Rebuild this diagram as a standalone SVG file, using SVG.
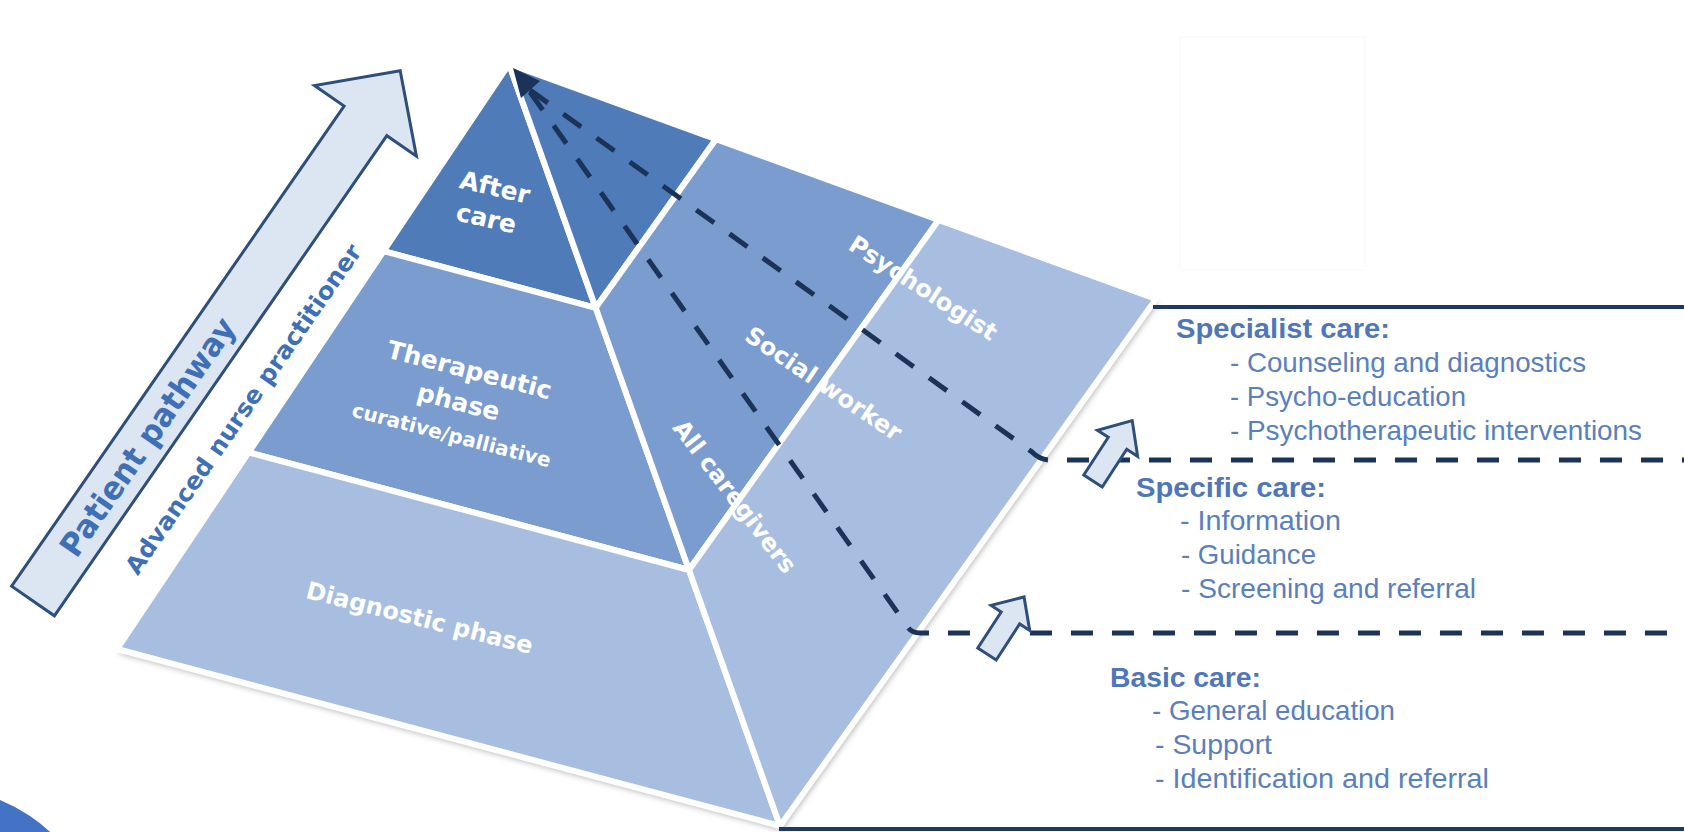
<svg xmlns="http://www.w3.org/2000/svg" width="1684" height="832" viewBox="0 0 1684 832">
<defs>
<style>
.face{stroke:#ffffff;stroke-width:6;stroke-linejoin:round}
.dark{fill:#4f7cb9}
.mid{fill:#7a9cce}
.light{fill:#a8bee0}
.plab{font-family:"DejaVu Sans","Liberation Sans",sans-serif;font-weight:bold;fill:#ffffff;text-anchor:middle}
.dash{fill:none;stroke:#1b3358;stroke-width:5;stroke-dasharray:22 19}
.solid{fill:none;stroke:#1f3a60;stroke-width:4}
.blk{fill:#dce6f2;stroke:#2f4f7a;stroke-width:3;stroke-linejoin:miter}
.hd{font-family:"Liberation Sans Narrow","Liberation Sans",sans-serif;font-weight:bold;font-size:28px;fill:#4f77b8}
.it{font-family:"Liberation Sans Narrow","Liberation Sans",sans-serif;font-size:28px;fill:#5a7fbd}
.side{font-family:"DejaVu Sans","Liberation Sans",sans-serif;font-weight:bold;fill:#3f6fb5}
</style>
<filter id="sh" x="-10%" y="-10%" width="120%" height="120%">
<feGaussianBlur stdDeviation="3"/>
</filter>
</defs>
<rect width="1684" height="832" fill="#ffffff"/>
<rect x="1180" y="37" width="185" height="233" fill="none" stroke="#f8f8f8" stroke-width="1"/>
<circle cx="-62" cy="953" r="165" fill="#4472c4"/>

<g id="pathway-arrow" transform="translate(33,601) rotate(-55.3)">
<polygon class="blk" points="0,-26 584,-26 584,-62 645,0 584,62 584,26 0,26"/>
<text class="side" x="200" y="12" font-size="32" text-anchor="middle" textLength="282" lengthAdjust="spacingAndGlyphs">Patient pathway</text>
<text class="side" x="80" y="72" font-size="24" textLength="395" lengthAdjust="spacingAndGlyphs">Advanced nurse practitioner</text>
</g>

<polygon points="509,64 117,649 780,826 1156,299" fill="#6f6f6f" opacity="0.55" filter="url(#sh)" transform="translate(2,4)"/>

<g id="aftercare">
<polygon class="face dark" points="509,64 383.6,251.2 595.7,307.8"/>
<text class="plab" font-size="25" transform="translate(495,187) rotate(13)" y="9">After</text>
<text class="plab" font-size="25" transform="translate(486,220) rotate(13)" y="7">care</text>
</g>
<g id="therapeutic">
<polygon class="face mid" points="383.6,251.2 248.7,452.4 689,570 595.7,307.8"/>
<text class="plab" font-size="25" transform="translate(469,372) rotate(14.5)" y="6.5">Therapeutic</text>
<text class="plab" font-size="25" transform="translate(458,404) rotate(14.5)" y="6.5">phase</text>
<text class="plab" font-size="20" transform="translate(451,437) rotate(14.5)" y="5">curative/palliative</text>
</g>
<g id="diagnostic">
<polygon class="face light" points="248.7,452.4 117,649 780,826 689,570"/>
<text class="plab" font-size="24" transform="translate(419,620) rotate(14)" y="6" fill="#f2f5fb">Diagnostic phase</text>
</g>
<g id="right-top">
<polygon class="face dark" points="509,64 716,139.2 595.7,307.8"/>
</g>
<g id="right-mid">
<polygon class="face mid" points="716,139.2 938.6,220 689,570 595.7,307.8"/>
</g>
<g id="right-low">
<polygon class="face light" points="938.6,220 1156,299 780,826 689,570"/>
</g>
<g id="psychologist">
<text class="plab" font-size="24" transform="translate(922,290) rotate(33)" y="6">Psychologist</text>
</g>
<g id="social-worker">
<text class="plab" font-size="24" transform="translate(824,383) rotate(34)" y="9">Social worker</text>
</g>
<g id="all-caregivers">
<text class="plab" font-size="24" transform="translate(733,498) rotate(52.5)" y="6">All caregivers</text>
</g>

<g id="connectors">
<path class="dash" d="M 530,90 L 1032,452 Q 1040,460 1050,460 L 1684,460"/>
<path class="dash" d="M 530,92 L 907,626 Q 911,633 920,633 L 1684,633"/>
<polygon points="513,68 540,81 521,98" fill="#1b3358"/>
<line class="solid" x1="1153" y1="307" x2="1684" y2="307"/>
<line class="solid" x1="779" y1="829" x2="1684" y2="829"/>
<polygon class="blk" transform="translate(1093,481) rotate(-57)" points="0,-11 45,-11 45,-24 72,0 45,24 45,11 0,11"/>
<polygon class="blk" transform="translate(987,654) rotate(-57)" points="0,-11 43,-11 43,-23 68,0 43,23 43,11 0,11"/>
</g>

<g id="specialist">
<text class="hd" x="1176" y="338" textLength="214" lengthAdjust="spacingAndGlyphs">Specialist care:</text>
<text class="it" x="1230" y="372" textLength="356" lengthAdjust="spacingAndGlyphs">- Counseling and diagnostics</text>
<text class="it" x="1230" y="406" textLength="236" lengthAdjust="spacingAndGlyphs">- Psycho-education</text>
<text class="it" x="1230" y="440" textLength="412" lengthAdjust="spacingAndGlyphs">- Psychotherapeutic interventions</text>
</g>
<g id="specific">
<text class="hd" x="1136" y="497" textLength="190" lengthAdjust="spacingAndGlyphs">Specific care:</text>
<text class="it" x="1180" y="530" textLength="161" lengthAdjust="spacingAndGlyphs">- Information</text>
<text class="it" x="1181" y="564" textLength="135" lengthAdjust="spacingAndGlyphs">- Guidance</text>
<text class="it" x="1181" y="598" textLength="295" lengthAdjust="spacingAndGlyphs">- Screening and referral</text>
</g>
<g id="basic">
<text class="hd" x="1110" y="687" textLength="151" lengthAdjust="spacingAndGlyphs">Basic care:</text>
<text class="it" x="1152" y="720" textLength="243" lengthAdjust="spacingAndGlyphs">- General education</text>
<text class="it" x="1155" y="754" textLength="117" lengthAdjust="spacingAndGlyphs">- Support</text>
<text class="it" x="1155" y="788" textLength="334" lengthAdjust="spacingAndGlyphs">- Identification and referral</text>
</g>
</svg>
